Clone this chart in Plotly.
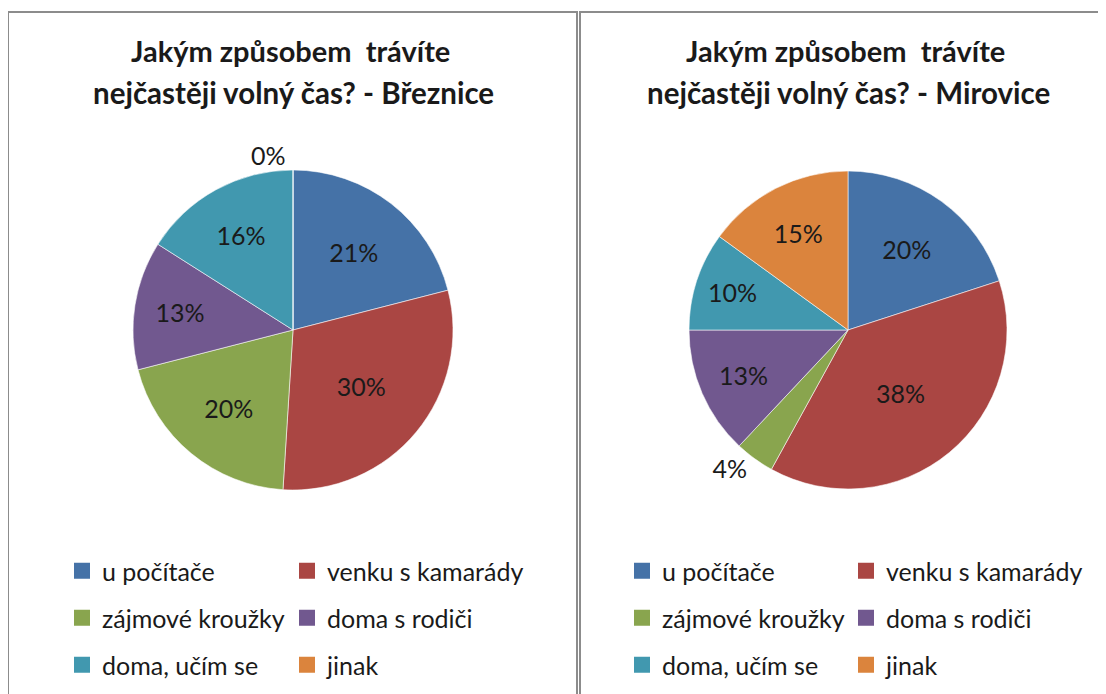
import plotly.graph_objects as go

# ---- data ----
categories = ["u počítače", "venku s kamarády", "zájmové kroužky",
              "doma s rodiči", "doma, učím se", "jinak"]
breznice = [21, 30, 20, 13, 16, 0]
mirovice = [20, 38, 4, 13, 10, 15]
colors = ["#4572A7", "#AA4643", "#89A54E", "#71588F", "#4198AF", "#DB843D"]
title_line1 = "Jakým způsobem\u00a0 trávíte"
title_line2 = ["nejčastěji volný čas? - Březnice", "nejčastěji volný čas? - Mirovice"]

W, H = 1106, 694
OFF = 8  # page body margin
FONT = "Lato"
TXT = "#1a1a1a"

def px(x):
    return (x - OFF) / W

def py(y):
    return 1 - (y - OFF) / H

fig = go.Figure()

# pies: centre (pixel) and radius
pie_geo = [(293, 330, 160), (848, 330, 159)]
series = [breznice, mirovice]
for (cx, cy, r), vals in zip(pie_geo, series):
    fig.add_trace(go.Pie(
        labels=categories, values=vals, sort=False, direction="clockwise",
        rotation=0,
        marker=dict(colors=colors, line=dict(color="rgba(255,255,255,0.7)", width=0.8)),
        texttemplate="%{percent:.0%}",
        textposition=["outside" if v < 5 else "inside" for v in vals],
        insidetextorientation="horizontal",
        textfont=dict(family=FONT, size=25, color=TXT),
        showlegend=False, hoverinfo="label+percent",
        domain=dict(x=[px(cx - r), px(cx + r)], y=[py(cy + r), py(cy - r)]),
    ))

# legends: one single-entry legend per item
col_x = [[85, 310], [645, 869]]
row_y = [571, 618, 665]
legend_layout = {}
k = 0
for p in range(2):
    for i, (cat, c) in enumerate(zip(categories, colors)):
        k += 1
        name = "legend" if k == 1 else f"legend{k}"
        fig.add_trace(go.Scatter(
            x=[None], y=[None], mode="markers", name=cat, legend=name,
            marker=dict(symbol="square", size=16, color=c),
            showlegend=True, hoverinfo="skip",
        ))
        mx = col_x[p][i % 2]
        my = row_y[i // 2]
        legend_layout[name] = dict(
            x=px(mx - 23), y=py(my), xanchor="left", yanchor="middle",
            orientation="v", bgcolor="rgba(0,0,0,0)", borderwidth=0,
            font=dict(family=FONT, size=25, color=TXT),
        )

# titles
annotations = []
for p, cx in enumerate([290, 845]):
    annotations.append(dict(text=f"<b>{title_line1}</b>", x=px(cx), y=py(51),
                            xref="paper", yref="paper", showarrow=False,
                            xanchor="center", yanchor="middle",
                            font=dict(family=FONT, size=29, color=TXT)))
    annotations.append(dict(text=f"<b>{title_line2[p]}</b>", x=px(cx + 3), y=py(92),
                            xref="paper", yref="paper", showarrow=False,
                            xanchor="center", yanchor="middle",
                            font=dict(family=FONT, size=29.5, color=TXT)))

shapes = [
    dict(type="rect", xref="paper", yref="paper", x0=px(8), x1=px(577),
         y0=py(720), y1=py(12), line=dict(color="#8c8c8c", width=2)),
    dict(type="rect", xref="paper", yref="paper", x0=px(580), x1=px(1130),
         y0=py(720), y1=py(12), line=dict(color="#8c8c8c", width=2)),
]

fig.update_layout(
    width=W, height=H, margin=dict(l=0, r=0, t=0, b=0),
    paper_bgcolor="white", plot_bgcolor="white",
    xaxis=dict(visible=False), yaxis=dict(visible=False),
    annotations=annotations, shapes=shapes,
    **legend_layout,
)

fig.write_html("out.html")
